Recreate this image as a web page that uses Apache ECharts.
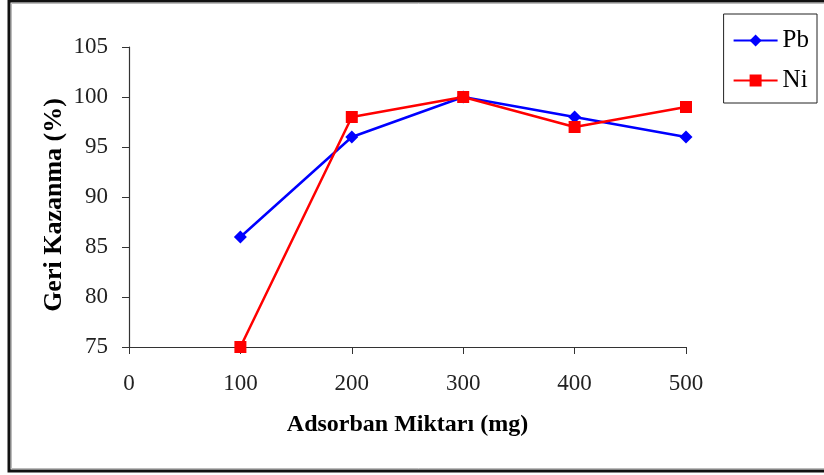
<!DOCTYPE html>
<html>
<head>
<meta charset="utf-8">
<script src="https://cdn.jsdelivr.net/npm/echarts@6/dist/echarts.min.js"></script>
<style>
  html, body { margin: 0; padding: 0; background: #fff; }
  #chart { width: 824px; height: 475px; }
</style>
</head>
<body>
<div id="chart"></div>
<script>
// Adsorbent amount (mg) and recovery (%) for each metal
const adsorbentMg = [100, 200, 300, 400, 500];
const pbRecovery = [86, 96, 100, 98, 96];
const niRecovery = [75, 98, 100, 97, 99];
const xTicks = [0, 100, 200, 300, 400, 500];
const yTicks = [75, 80, 85, 90, 95, 100, 105];

const serif = '"Liberation Serif", "Times New Roman", serif';
const toPairs = (xs, ys) => xs.map((x, i) => [x, ys[i]]);

const chart = echarts.init(document.getElementById('chart'), null, { renderer: 'canvas' });
chart.setOption({
  animation: false,
  backgroundColor: '#fff',
  grid: { left: 129, right: 138, top: 47, bottom: 128, containLabel: false },
  xAxis: {
    type: 'value',
    min: xTicks[0], max: xTicks[xTicks.length - 1], interval: 100,
    name: 'Adsorban Miktarı (mg)',
    nameLocation: 'middle', nameGap: 66,
    nameTextStyle: { fontFamily: serif, fontSize: 24, fontWeight: 'bold', color: '#000' },
    axisLine: { lineStyle: { color: '#333', width: 1.2 } },
    axisTick: { show: true, length: 7, inside: false, lineStyle: { color: '#333' } },
    axisLabel: { fontFamily: serif, fontSize: 23, color: '#222', margin: 25 },
    splitLine: { show: false }
  },
  yAxis: {
    type: 'value',
    min: yTicks[0], max: yTicks[yTicks.length - 1], interval: 5,
    axisLine: { show: true, lineStyle: { color: '#333', width: 1.2 } },
    axisTick: { show: true, length: 7, inside: false, lineStyle: { color: '#333' } },
    axisLabel: { fontFamily: serif, fontSize: 23, color: '#222', margin: 21 },
    splitLine: { show: false }
  },
  legend: {
    orient: 'vertical',
    right: 7, top: 14,
    padding: [14, 8, 10, 9],
    itemGap: 15,
    itemWidth: 44, itemHeight: 15,
    backgroundColor: '#fff',
    borderColor: '#222', borderWidth: 1,
    textStyle: { fontFamily: serif, fontSize: 25, lineHeight: 24, color: '#000' },
    data: ['Pb', 'Ni']
  },
  series: [
    {
      name: 'Pb', type: 'line',
      data: toPairs(adsorbentMg, pbRecovery),
      symbol: 'diamond', symbolSize: 13,
      lineStyle: { color: '#0000ff', width: 2.5 },
      itemStyle: { color: '#0000ff' },
      z: 2
    },
    {
      name: 'Ni', type: 'line',
      data: toPairs(adsorbentMg, niRecovery),
      symbol: 'rect', symbolSize: 12,
      lineStyle: { color: '#ff0000', width: 2.5 },
      itemStyle: { color: '#ff0000' },
      z: 3
    }
  ],
  graphic: [
    {
      // vertical axis title
      type: 'text', silent: true,
      x: 54, y: 205, rotation: Math.PI / 2,
      style: {
        text: 'Geri Kazanma (%)',
        fontFamily: serif, fontSize: 26, fontWeight: 'bold', fill: '#000',
        align: 'center', verticalAlign: 'middle'
      }
    },
    {
      type: 'rect', z: 100, silent: true,
      shape: { x: 9, y: 1, width: 840, height: 470 },
      style: { fill: 'none', stroke: '#111', lineWidth: 3 }
    },
    {
      type: 'rect', z: 100, silent: true,
      shape: { x: 11.5, y: 3.5, width: 840, height: 465 },
      style: { fill: 'none', stroke: '#bbb', lineWidth: 1 }
    }
  ]
});
</script>
</body>
</html>
